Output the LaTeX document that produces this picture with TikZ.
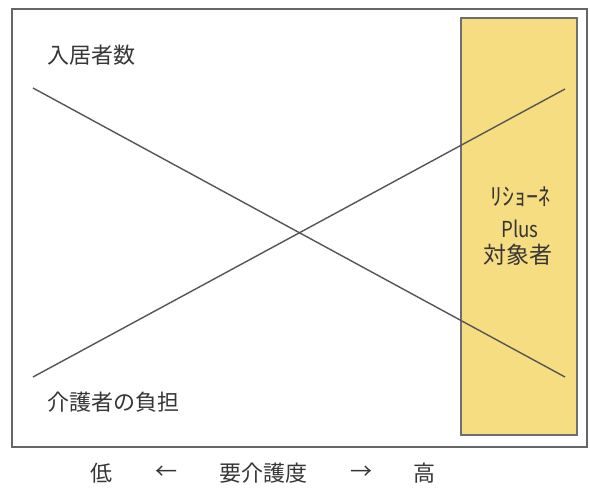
\documentclass[tikz,border=0pt]{standalone}
\usepackage{fontspec}
\newfontfamily\jp{Noto Sans CJK JP}
\definecolor{frameC}{HTML}{666666}
\definecolor{lineC}{HTML}{555555}
\definecolor{yellowC}{HTML}{F6DD82}
\definecolor{boxC}{HTML}{6E6E6E}
\definecolor{txtC}{HTML}{363636}
\begin{document}
\begin{tikzpicture}[x=1pt,y=-1pt,
  lbl/.style={inner sep=0pt, text=txtC, font=\jp\fontsize{22}{24}\selectfont},
  axislbl/.style={lbl, anchor=center},
  crossline/.style={draw=lineC, line width=1.4pt},
  framebox/.style={draw=frameC, line width=1.5pt},
  ybox/.style={draw=boxC, line width=1.5pt, fill=yellowC}]
\useasboundingbox (0,0) rectangle (590,493);
\path[fill=white] (0,0) rectangle (590,493);
\node[framebox, minimum width=575pt, minimum height=438pt, inner sep=0pt] (frame) at (299.5,228) {};
\node[ybox, minimum width=116pt, minimum height=417pt, inner sep=0pt] (target) at (519,226.5) {};
\coordinate (a1) at (33,88);
\coordinate (a2) at (565,377);
\coordinate (b1) at (33,377);
\coordinate (b2) at (565,89);
\draw[crossline] (a1) -- (a2);
\draw[crossline] (b1) -- (b2);
\node[lbl, anchor=west] (residents) at (47,55) {入居者数};
\node[lbl, anchor=west] (burden) at (47,402) {介護者の負担};
\node[lbl, anchor=center, font=\jp\fontsize{24}{24}\selectfont] (kana) at (520,197) {ﾘｼｮｰﾈ};
\node[lbl, anchor=center, font=\jp\fontsize{22}{22}\selectfont, xscale=0.85] (plus) at (520,229) {Plus};
\node[lbl, anchor=center, font=\jp\fontsize{23}{23}\selectfont] (taisho) at (518,255) {対象者};
\node[axislbl] (low) at (101,473) {低};
\node[axislbl] (la) at (166,473) {←};
\node[axislbl] (care) at (263,473) {要介護度};
\node[axislbl] (ra) at (361,473) {→};
\node[axislbl] (high) at (424,473) {高};
\end{tikzpicture}
\end{document}
